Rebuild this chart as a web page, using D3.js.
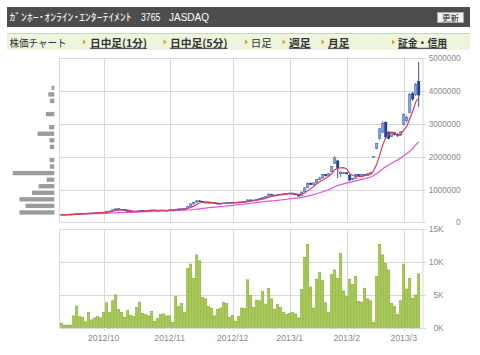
<!DOCTYPE html>
<html><head><meta charset="utf-8">
<script src="https://cdn.jsdelivr.net/npm/d3@7"></script>
<style>
body{margin:0;background:#fff;}
svg{display:block;}
</style></head><body>
<svg id="c" width="480" height="355"></svg>
<script>
// ---------- DATA ----------
const dates = [
"2012-09-10","2012-09-11","2012-09-12","2012-09-13","2012-09-14","2012-09-18","2012-09-19","2012-09-20","2012-09-21","2012-09-24","2012-09-25","2012-09-26","2012-09-27","2012-09-28",
"2012-10-01","2012-10-02","2012-10-03","2012-10-04","2012-10-05","2012-10-09","2012-10-10","2012-10-11","2012-10-12","2012-10-15","2012-10-16","2012-10-17","2012-10-18","2012-10-19","2012-10-22","2012-10-23","2012-10-24","2012-10-25","2012-10-26","2012-10-29","2012-10-30","2012-10-31",
"2012-11-01","2012-11-02","2012-11-05","2012-11-06","2012-11-07","2012-11-08","2012-11-09","2012-11-12","2012-11-13","2012-11-14","2012-11-15","2012-11-16","2012-11-19","2012-11-20","2012-11-21","2012-11-22","2012-11-26","2012-11-27","2012-11-28","2012-11-29","2012-11-30",
"2012-12-03","2012-12-04","2012-12-05","2012-12-06","2012-12-07","2012-12-10","2012-12-11","2012-12-12","2012-12-13","2012-12-14","2012-12-17","2012-12-18","2012-12-19","2012-12-20","2012-12-21","2012-12-25","2012-12-26","2012-12-27","2012-12-28",
"2013-01-04","2013-01-07","2013-01-08","2013-01-09","2013-01-10","2013-01-11","2013-01-15","2013-01-16","2013-01-17","2013-01-18","2013-01-21","2013-01-22","2013-01-23","2013-01-24","2013-01-25","2013-01-28","2013-01-29","2013-01-30","2013-01-31",
"2013-02-01","2013-02-04","2013-02-05","2013-02-06","2013-02-07","2013-02-08","2013-02-12","2013-02-13","2013-02-14","2013-02-15","2013-02-18","2013-02-19","2013-02-20","2013-02-21","2013-02-22","2013-02-25","2013-02-26","2013-02-27","2013-02-28",
"2013-03-01","2013-03-04","2013-03-05","2013-03-06","2013-03-07","2013-03-08"];

// prices in thousand yen
const open = [232,235,238,241,243,250,266,262,270,276,280,286,291,300,
306,310,332,345,382,412,396,380,358,330,320,330,346,360,350,366,370,376,364,360,371,365,
362,380,392,400,410,402,425,485,560,615,655,640,598,610,590,600,580,560,575,590,600,
610,600,610,622,615,645,682,670,680,702,732,760,785,850,830,822,850,858,870,
882,892,860,840,805,925,1055,1190,1150,1205,1300,1355,1460,1420,1540,1800,1870,1480,1500,
1510,1440,1300,1340,1450,1420,1450,1430,1480,2010,2250,2550,2750,3050,2750,2620,2730,2680,2660,
2980,3100,3350,3920,3900,4300];
const high = [238,241,243,246,254,270,270,274,279,285,290,294,305,310,
315,336,350,392,425,420,400,384,362,336,336,352,368,364,372,378,382,380,368,376,374,370,
386,396,408,418,414,426,495,575,630,680,670,645,625,615,610,604,584,582,598,606,616,
614,616,626,628,648,700,690,688,710,740,770,790,900,866,840,862,870,880,890,
905,898,866,846,935,1070,1210,1220,1215,1320,1380,1480,1470,1500,1720,2010,1900,1560,1540,
1530,1460,1360,1480,1470,1470,1460,1490,1530,2010,2420,2870,3080,3080,2780,2760,2760,2720,2780,
3320,3250,3950,3980,4250,4880];
const low = [230,233,236,238,241,248,258,260,267,272,277,282,289,296,
300,308,326,343,378,388,372,352,322,312,316,326,342,344,348,360,366,360,352,356,360,354,
358,376,386,396,394,398,420,480,550,600,625,590,590,580,585,572,552,556,570,585,596,
592,596,605,608,612,640,660,664,676,698,726,752,780,820,810,818,844,850,862,
876,852,832,790,800,915,1040,1130,1130,1195,1290,1340,1400,1410,1520,1780,1350,1380,1470,
1460,1250,1280,1330,1400,1410,1410,1420,1460,2010,2230,2520,2720,2580,2530,2600,2650,2600,2640,
2950,3050,3330,3700,3850,3520];
const close = [235,238,240,242,250,265,262,270,275,280,285,290,300,305,
310,330,345,380,410,395,380,360,330,320,330,345,360,350,365,370,375,365,360,370,365,360,
380,390,400,410,400,420,480,560,610,650,640,600,610,590,600,580,560,575,590,600,610,
600,610,620,615,640,680,670,680,700,730,760,780,850,830,820,850,860,870,880,
890,860,840,800,920,1050,1180,1150,1200,1300,1350,1450,1420,1480,1700,1960,1650,1520,1510,
1480,1290,1330,1460,1420,1450,1430,1480,1510,2010,2400,2850,3020,2600,2560,2740,2680,2640,2760,
3280,3200,3900,3760,4200,3880];
// volume in thousand shares
const volume = [0.7,0.4,0.4,0.4,1.8,3.3,1.7,1.6,0.9,2.3,1.2,1.5,1.7,1.5,
2.3,3.8,2.3,4.1,5.0,2.8,2.3,1.6,2.6,1.9,1.7,3.1,3.9,2.2,2.0,1.8,2.5,1.0,1.4,2.0,2.1,1.8,
1.8,0.8,4.8,3.2,3.7,2.3,9.0,9.7,7.5,11.1,10.2,4.6,4.4,3.2,3.0,1.8,2.8,3.0,3.9,3.7,1.6,
1.9,1.0,1.7,3.0,2.9,7.3,4.9,3.1,4.2,4.1,5.5,3.6,6.0,4.4,2.8,3.5,3.1,2.3,2.0,
2.2,2.3,2.1,1.5,5.8,10.7,12.7,6.2,3.0,7.4,8.4,7.2,3.8,2.3,8.1,8.8,7.5,11.3,5.6,
4.8,7.4,6.6,7.8,4.0,3.9,6.0,4.4,4.1,0.8,7.8,12.7,11.1,9.8,8.8,3.7,3.2,2.0,4.1,
9.7,5.9,7.5,4.5,5.0,8.2];

const priceTicks = [0,1000,2000,3000,4000,5000];
const volumeTicks = [0,5,10,15];
const monthStarts = ["2012-10-01","2012-11-01","2012-12-03","2013-01-04","2013-02-01","2013-03-01"];
const monthLabels = ["2012/10","2012/11","2012/12","2013/1","2013/2","2013/3"];
// volume-by-price profile (bin centres, thousand yen)
const profilePrice = [300,500,700,900,1100,1300,1500,1700,1900,2300,2500,2700,2900,3300,3700,3900,4100];
const profileVolume = [87,72,87,56,39,19,104,11,12,11,12,42,13,21,11,15,7];

const titleName = "ｶﾞﾝﾎｰ･ｵﾝﾗｲﾝ･ｴﾝﾀｰﾃｲﾒﾝﾄ";
const titleCode = "3765";
const titleMarket = "JASDAQ";
const tabLabels = ["日中足(1分)","日中足(5分)","日足","週足","月足","証金・信用"];
const tabLinked = [true,true,false,true,true,true];

// ---------- LAYOUT ----------
const svg = d3.select("#c");
const font = "'Liberation Sans','Noto Sans CJK JP',Arial,sans-serif";
const jfont = "'Noto Sans CJK JP','Liberation Sans',sans-serif";

// header
svg.append("rect").attr("x",7).attr("y",7).attr("width",463).attr("height",20).attr("fill","#4d4d4d");
svg.append("text").attr("x",9.5).attr("y",21).attr("fill","#fff").attr("font-family",jfont).attr("font-size",10.5)
  .attr("textLength",122).attr("lengthAdjust","spacingAndGlyphs").text(titleName);
svg.append("text").attr("x",141).attr("y",21).attr("fill","#fff").attr("font-family",font).attr("font-size",10)
  .attr("textLength",19.5).attr("lengthAdjust","spacingAndGlyphs").text(titleCode);
svg.append("text").attr("x",169).attr("y",21).attr("fill","#fff").attr("font-family",font).attr("font-size",10)
  .attr("textLength",40).attr("lengthAdjust","spacingAndGlyphs").text(titleMarket);
svg.append("rect").attr("x",437.5).attr("y",12.5).attr("width",26).attr("height",10).attr("fill","#f2f2f2").attr("stroke","#aaa").attr("stroke-width",0.8);
svg.append("text").attr("x",450.5).attr("y",21).attr("text-anchor","middle").attr("fill","#222").attr("font-family",jfont).attr("font-size",8.5).text("更新");

// tab bar
svg.append("rect").attr("x",7).attr("y",33.5).attr("width",463).attr("height",16.5).attr("fill","#eef5dd");
svg.append("line").attr("x1",7).attr("x2",470).attr("y1",33.5).attr("y2",33.5).attr("stroke","#c9d3b6").attr("stroke-width",1);
svg.append("text").attr("x",9.5).attr("y",46.5).attr("fill","#333").attr("font-family",jfont).attr("font-size",10.5)
  .attr("textLength",57).attr("lengthAdjust","spacingAndGlyphs").text("株価チャート");
const tabX = [90,170,250.7,289,328,398];
const tabW = [57,57.5,21,21.7,21.3,49];
const arrowX = [83,163.5,245,282.5,321.5,392];
tabLabels.forEach((t,i)=>{
  svg.append("path").attr("d",`M${arrowX[i]},39.5 L${arrowX[i]+3.2},42 L${arrowX[i]},44.5 Z`).attr("fill","#f39a1e");
  svg.append("text").attr("x",tabX[i]).attr("y",46.5).attr("fill","#333").attr("font-family",jfont)
    .attr("font-size",10.5).attr("font-weight",tabLinked[i]?"bold":"normal")
    .attr("textLength",tabW[i]).attr("lengthAdjust","spacingAndGlyphs").text(t);
  if(tabLinked[i]) svg.append("line").attr("x1",tabX[i]).attr("x2",tabX[i]+tabW[i]).attr("y1",48.3).attr("y2",48.3).attr("stroke","#333").attr("stroke-width",1);
});

// scales
const x = d3.scaleBand().domain(dates).range([60.2,420.2]).paddingInner(0);
const cx = d => x(d) + x.bandwidth()/2;
const yP = d3.scaleLinear().domain([0,5000]).range([222.3,58.3]);
const yV = d3.scaleLinear().domain([0,15]).range([327.7,229.3]);
const L = 59.5, R = 423;
const grid = "#d9d9d9";

// price pane grid
const gP = svg.append("g");
gP.selectAll("line.h").data(priceTicks).join("line")
  .attr("x1",L).attr("x2",R+3).attr("y1",d=>Math.round(yP(d))+0.5).attr("y2",d=>Math.round(yP(d))+0.5)
  .attr("stroke",grid).attr("stroke-width",1);
gP.selectAll("line.v").data(monthStarts).join("line")
  .attr("x1",d=>Math.round(cx(d))+0.5).attr("x2",d=>Math.round(cx(d))+0.5).attr("y1",yP(5000)).attr("y2",yP(0))
  .attr("stroke",grid).attr("stroke-width",1);
gP.append("line").attr("x1",L).attr("x2",L).attr("y1",yP(5000)).attr("y2",yP(0)).attr("stroke",grid);
gP.append("line").attr("x1",R).attr("x2",R).attr("y1",yP(5000)).attr("y2",yP(0)).attr("stroke",grid);
gP.selectAll("text").data(priceTicks).join("text")
  .attr("x",460.5).attr("y",d=>yP(d)+3).attr("text-anchor","end").attr("fill","#8a8a8a").attr("font-family",font).attr("font-size",8.2)
  .text(d=>String(d*1000));

// volume profile (left)
const xProf = d3.scaleLinear().domain([0,120]).range([0,48]);
const rowH = (yP(0)-yP(200))*0.66;
svg.append("g").selectAll("rect").data(profilePrice).join("rect")
  .attr("x",(d,i)=>54.3 - xProf(profileVolume[i])).attr("width",(d,i)=>xProf(profileVolume[i]))
  .attr("y",d=>yP(d)-rowH/2).attr("height",rowH).attr("fill","#9c9c9c");

// candles
const gC = svg.append("g");
dates.forEach((d,i)=>{
  const up = close[i] >= open[i];
  const col = up ? "#3a5dab" : "#1c3a8c";
  gC.append("line").attr("x1",cx(d)).attr("x2",cx(d)).attr("y1",yP(high[i])).attr("y2",yP(low[i]))
    .attr("stroke",col).attr("stroke-width",0.9);
  const top = yP(Math.max(open[i],close[i])), bot = yP(Math.min(open[i],close[i]));
  gC.append("rect").attr("x",cx(d)-1.2).attr("width",2.4).attr("y",top).attr("height",Math.max(0.8,bot-top))
    .attr("fill",up?"#8aa7da":"#1f3d91").attr("stroke",col).attr("stroke-width",0.5);
});

// moving averages
function ma(n){ return close.map((c,i)=>d3.mean(close.slice(Math.max(0,i-n+1),i+1))); }
const line = d3.line().x((v,i)=>cx(dates[i])).y(v=>yP(v));
svg.append("path").attr("d",line(ma(25))).attr("fill","none").attr("stroke","#e24ee6").attr("stroke-width",1.2);
svg.append("path").attr("d",line(ma(5))).attr("fill","none").attr("stroke","#e23c57").attr("stroke-width",1.2);

// volume pane
const gV = svg.append("g");
gV.selectAll("line.h").data(volumeTicks).join("line")
  .attr("x1",L).attr("x2",R+3).attr("y1",d=>Math.round(yV(d))+0.5).attr("y2",d=>Math.round(yV(d))+0.5)
  .attr("stroke",grid).attr("stroke-width",1);
gV.selectAll("line.v").data(monthStarts).join("line")
  .attr("x1",d=>Math.round(cx(d))+0.5).attr("x2",d=>Math.round(cx(d))+0.5).attr("y1",yV(15)).attr("y2",yV(0)+3)
  .attr("stroke",grid).attr("stroke-width",1);
gV.append("line").attr("x1",L).attr("x2",L).attr("y1",yV(15)).attr("y2",yV(0)).attr("stroke",grid);
gV.append("line").attr("x1",R).attr("x2",R).attr("y1",yV(15)).attr("y2",yV(0)).attr("stroke",grid);
gV.selectAll("rect").data(dates).join("rect")
  .attr("x",d=>x(d)+0.3).attr("width",2.3).attr("y",(d,i)=>yV(volume[i])).attr("height",(d,i)=>yV(0)-yV(volume[i]))
  .attr("fill","#a9cb55").attr("stroke","#7ba420").attr("stroke-width",0.5);
gV.selectAll("text.vl").data(volumeTicks).join("text")
  .attr("x",443.5).attr("y",d=>yV(d)+3).attr("text-anchor","end").attr("fill","#8a8a8a").attr("font-family",font).attr("font-size",8.2)
  .text(d=>d+"K");
svg.append("g").selectAll("text").data(monthStarts).join("text")
  .attr("x",d=>cx(d)).attr("y",340.5).attr("text-anchor","middle").attr("fill","#8a8a8a")
  .attr("font-family",font).attr("font-size",8.7).text((d,i)=>monthLabels[i]);
</script>
</body></html>
